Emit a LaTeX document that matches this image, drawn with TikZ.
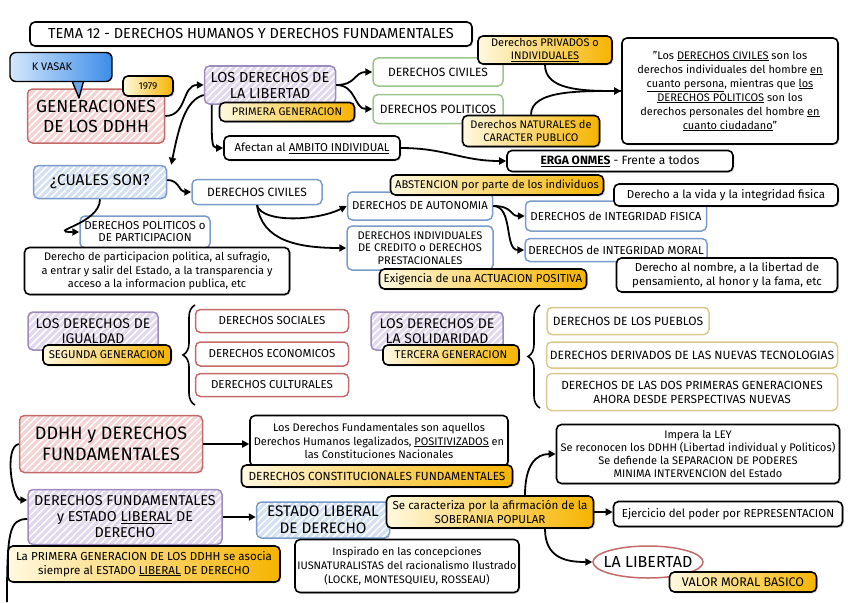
\documentclass[tikz,border=0pt]{standalone}
\usepackage{fontspec}
\setmainfont{Fira Sans}
\usetikzlibrary{shapes.geometric, arrows.meta, calc, patterns.meta, shadows, decorations.pathreplacing}
\usepackage{xcolor}
\definecolor{rojo}{HTML}{F3D3D3}
\definecolor{rojoborde}{HTML}{C46A6A}
\definecolor{lila}{HTML}{E2D8EE}
\definecolor{lilaborde}{HTML}{9E8BBE}
\definecolor{celeste}{HTML}{D4E1F3}
\definecolor{celesteborde}{HTML}{7B9BCB}
\definecolor{oro}{HTML}{F6B400}
\definecolor{crema}{HTML}{FFF9E0}
\definecolor{verdeborde}{HTML}{9DC58B}
\definecolor{beigeborde}{HTML}{D9C98C}
\definecolor{azulclaro}{HTML}{D4E7FC}
\definecolor{azulk}{HTML}{3D8DE8}

\begin{document}
\begin{tikzpicture}[x=1pt, y=-1pt,
  caja/.style={rectangle, rounded corners=5pt, align=center, inner sep=2pt, font=\fontsize{11.5}{13}\selectfont},
  sombra/.style={drop shadow={shadow xshift=1.3pt, shadow yshift=-1.3pt, opacity=.35}},
  negra/.style={caja, draw=black, line width=1.6pt, fill=white, sombra},
  amarilla/.style={caja, draw=black, line width=1.6pt, left color=crema, right color=oro, sombra},
  rayada/.style 2 args={caja, preaction={fill=#1}, pattern={Lines[angle=45, distance=5pt, line width=1.5pt]}, pattern color=white, draw=#2, line width=1.5pt},
  borde/.style={caja, draw=#1, line width=1.5pt, fill=white},
  flecha/.style={line width=1.8pt, -{Triangle[length=7pt, width=7pt]}},
  linea/.style={line width=1.8pt},
  llave/.style={line width=1.6pt, decorate, decoration={brace, amplitude=12pt}},
]
\useasboundingbox (0,0) rectangle (848,602);

\node[negra, minimum width=442pt, minimum height=24pt, font=\fontsize{14.5}{16}\selectfont] (titulo) at (251,34) {TEMA 12 - DERECHOS HUMANOS Y DERECHOS FUNDAMENTALES};

\node[rayada={rojo}{rojoborde}, minimum width=137pt, minimum height=54pt, font=\fontsize{17.5}{20}\selectfont] (gen) at (96,116) {GENERACIONES\\DE LOS DDHH};
\filldraw[fill=azulk!70!azulclaro, draw=black, line width=1.4pt, line join=round] (70,76) -- (79,98) -- (85,76);
\node[caja, rounded corners=6pt, draw=black, line width=1.4pt, left color=azulclaro, right color=azulk, minimum width=102pt, minimum height=29pt, font=\fontsize{11}{13}\selectfont] (vasak) at (61,67) {K VASAK\hspace{18pt}};
\node[amarilla, minimum width=50pt, minimum height=20pt, font=\fontsize{10}{12}\selectfont] (anio) at (148,86) {1979};

\node[rayada={lila}{lilaborde}, minimum width=131pt, minimum height=38pt, font=\fontsize{14.5}{16}\selectfont] (libertad) at (270,85) {LOS DERECHOS DE\\LA LIBERTAD};
\node[amarilla, minimum width=135pt, minimum height=19pt, font=\fontsize{11}{13}\selectfont] (primera) at (287,112) {PRIMERA GENERACION};
\node[borde=verdeborde, minimum width=130pt, minimum height=28pt, font=\fontsize{12}{14}\selectfont] (civiles1) at (438,72) {DERECHOS CIVILES};
\node[borde=verdeborde, minimum width=130pt, minimum height=29pt, font=\fontsize{12}{14}\selectfont] (politicos1) at (438,109) {DERECHOS POLITICOS};

\node[negra, minimum width=216pt, minimum height=106pt, font=\fontsize{11}{14}\selectfont] (cita) at (730,91) {"Los \underline{DERECHOS CIVILES} son los\\derechos individuales del hombre \underline{en}\\\underline{cuanto persona}, mientras que \underline{los}\\\underline{DERECHOS POLITICOS} son los\\derechos personales del hombre \underline{en}\\\underline{cuanto ciudadano}"};
\node[amarilla, minimum width=134pt, minimum height=28pt, font=\fontsize{11}{12.5}\selectfont] (privados) at (545,50) {Derechos PRIVADOS o\\\underline{INDIVIDUALES}};
\node[amarilla, minimum width=137pt, minimum height=31pt, font=\fontsize{11}{13}\selectfont] (naturales) at (531,131) {Derechos NATURALES de\\CARACTER PUBLICO};

\node[negra, minimum width=176pt, minimum height=24pt, font=\fontsize{11.4}{13}\selectfont] (afectan) at (312,148) {Afectan al \underline{AMBITO INDIVIDUAL}};
\node[negra, minimum width=226pt, minimum height=21pt, font=\fontsize{12}{14}\selectfont] (erga) at (620,161) {\underline{\textbf{ERGA ONMES}} - Frente a todos};

\node[rayada={celeste}{celesteborde}, minimum width=133pt, minimum height=33pt, font=\fontsize{15.5}{17}\selectfont] (cuales) at (100,182) {¿CUALES SON?};
\node[borde=celesteborde, minimum width=130pt, minimum height=25pt, font=\fontsize{12}{14}\selectfont] (civiles2) at (257,192) {DERECHOS CIVILES};
\node[borde=celesteborde, minimum width=130pt, minimum height=32pt, font=\fontsize{11.5}{12}\selectfont] (politicos2) at (145,232) {DERECHOS POLITICOS o\\DE PARTICIPACION};
\node[negra, minimum width=265pt, minimum height=47pt, font=\fontsize{11}{13.5}\selectfont] (participacion) at (157,271) {Derecho de participacion politica, al sufragio,\\a entrar y salir del Estado, a la transparencia y\\acceso a la informacion publica, etc};

\node[borde=celesteborde, minimum width=145pt, minimum height=28pt, font=\fontsize{11.4}{13}\selectfont] (autonomia) at (420,206) {DERECHOS DE AUTONOMIA};
\node[amarilla, minimum width=213pt, minimum height=20pt, font=\fontsize{11.2}{13}\selectfont] (abstencion) at (497,185) {ABSTENCION por parte de los individuos};
\node[borde=celesteborde, minimum width=146pt, minimum height=44pt, font=\fontsize{11.1}{12.5}\selectfont] (individuales) at (420,248) {DERECHOS INDIVIDUALES\\DE CREDITO o DERECHOS\\PRESTACIONALES};
\node[amarilla, minimum width=207pt, minimum height=20pt] (exigencia) at (483,279) {Exigencia de una ACTUACION POSITIVA};

\node[borde=celesteborde, minimum width=181pt, minimum height=30pt] (fisica) at (616,216) {DERECHOS de INTEGRIDAD FISICA};
\node[negra, minimum width=224pt, minimum height=22pt] (vida) at (726,195) {Derecho a la vida y la integridad fisica};
\node[borde=celesteborde, minimum width=182pt, minimum height=23pt] (moral) at (616,250) {DERECHOS de INTEGRIDAD MORAL};
\node[negra, minimum width=221pt, minimum height=34pt, font=\fontsize{11.5}{13.5}\selectfont] (nombre) at (727,275) {Derecho al nombre, a la libertad de\\pensamiento, al honor y la fama, etc};

\node[rayada={lila}{lilaborde}, minimum width=130pt, minimum height=38pt, font=\fontsize{14}{15.5}\selectfont] (igualdad) at (93,331) {LOS DERECHOS DE\\IGUALDAD};
\node[amarilla, minimum width=128pt, minimum height=20pt, font=\fontsize{11.3}{13}\selectfont] (segunda) at (107,355) {SEGUNDA GENERACION};
\draw[llave] (195,405) -- (195,305);
\node[borde=rojoborde, minimum width=153pt, minimum height=23pt] (sociales) at (272,321) {DERECHOS SOCIALES};
\node[borde=rojoborde, minimum width=153pt, minimum height=24pt] (economicos) at (272,354) {DERECHOS ECONOMICOS};
\node[borde=rojoborde, minimum width=153pt, minimum height=23pt] (culturales) at (272,385) {DERECHOS CULTURALES};

\node[rayada={lila}{lilaborde}, minimum width=132pt, minimum height=38pt, font=\fontsize{14}{15.5}\selectfont] (solidaridad) at (437,331) {LOS DERECHOS DE\\LA SOLIDARIDAD};
\node[amarilla, minimum width=136pt, minimum height=20pt, font=\fontsize{11.3}{13}\selectfont] (tercera) at (451,355) {TERCERA GENERACION};
\draw[llave] (540,408) -- (540,305);
\node[borde=beigeborde, minimum width=162pt, minimum height=27pt, font=\fontsize{12}{14}\selectfont] (pueblos) at (628,321) {DERECHOS DE LOS PUEBLOS};
\node[borde=beigeborde, minimum width=291pt, minimum height=26pt, font=\fontsize{12}{14}\selectfont] (tecnologias) at (692,355) {DERECHOS DERIVADOS DE LAS NUEVAS TECNOLOGIAS};
\node[borde=beigeborde, minimum width=291pt, minimum height=37pt, font=\fontsize{11.8}{14}\selectfont] (perspectivas) at (692,392) {DERECHOS DE LAS DOS PRIMERAS GENERACIONES\\AHORA DESDE PERSPECTIVAS NUEVAS};

\node[rayada={rojo}{rojoborde}, minimum width=183pt, minimum height=57pt, font=\fontsize{18}{21}\selectfont] (ddhh) at (111,444) {DDHH y DERECHOS\\FUNDAMENTALES};
\node[negra, minimum width=258pt, minimum height=51pt, font=\fontsize{11}{13.5}\selectfont] (losfund) at (379,441) {Los Derechos Fundamentales son aquellos\\Derechos Humanos legalizados, \underline{POSITIVIZADOS} en\\las Constituciones Nacionales};
\node[amarilla, minimum width=271pt, minimum height=22pt, font=\fontsize{11.8}{13}\selectfont] (constitucionales) at (377,476) {DERECHOS CONSTITUCIONALES FUNDAMENTALES};
\node[rayada={lila}{lilaborde}, minimum width=194pt, minimum height=55pt, font=\fontsize{14.3}{16}\selectfont] (fundestado) at (125,517) {DERECHOS FUNDAMENTALES\\y ESTADO \underline{LIBERAL} DE\\DERECHO};
\node[amarilla, minimum width=272pt, minimum height=36pt, font=\fontsize{11.6}{14}\selectfont] (primeraasoc) at (144,564) {La PRIMERA GENERACION DE LOS DDHH se asocia\\siempre al ESTADO \underline{LIBERAL} DE DERECHO};
\node[rayada={celeste}{celesteborde}, minimum width=133pt, minimum height=36pt, font=\fontsize{15.3}{17}\selectfont] (estado) at (323,520) {ESTADO LIBERAL\\DE DERECHO};
\node[amarilla, minimum width=207pt, minimum height=32pt, font=\fontsize{11.6}{14}\selectfont] (soberania) at (490,512) {Se caracteriza por la afirmación de la\\SOBERANIA POPULAR};
\node[negra, minimum width=224pt, minimum height=53pt, font=\fontsize{10.9}{14}\selectfont] (inspirado) at (407,566) {Inspirado en las concepciones\\IUSNATURALISTAS del racionalismo Ilustrado\\(LOCKE, MONTESQUIEU, ROSSEAU)};
\node[negra, minimum width=283pt, minimum height=59pt, font=\fontsize{11}{13}\selectfont] (impera) at (698,454) {Impera la LEY\\Se reconocen los DDHH (Libertad individual y Politicos)\\Se defiende la SEPARACION DE PODERES\\MINIMA INTERVENCION del Estado};
\node[negra, minimum width=229pt, minimum height=25pt] (ejercicio) at (728,514) {Ejercicio del poder por REPRESENTACION};
\node[ellipse, draw=rojoborde, line width=1.5pt, fill=white, inner sep=0pt, minimum width=110pt, minimum height=32pt, font=\fontsize{16}{18}\selectfont] (libertadell) at (648,562) {\makebox[0pt]{LA LIBERTAD}};
\node[amarilla, minimum width=147pt, minimum height=20pt, font=\fontsize{12.5}{14}\selectfont] (valor) at (743,582) {VALOR MORAL BASICO};

\draw[flecha] (gen.east) .. controls +(22,0) and +(-22,0) .. (libertad.west);
\draw[flecha] ([yshift=-10pt]libertad.west) .. controls +(-18,5) and +(8,-40) .. ([xshift=4pt]cuales.north east);
\draw[flecha] ([xshift=8pt]libertad.south west) .. controls +(0,35) and +(-12,0) .. (afectan.west);
\draw[flecha] (libertad.east) .. controls +(20,0) and +(-18,0) .. (civiles1.west);
\draw[flecha] (libertad.east) .. controls +(20,0) and +(-18,0) .. (politicos1.west);
\draw[flecha] (privados.south) .. controls +(0,25) and +(-40,0) .. (cita.west);
\draw[linea] (naturales.north) .. controls +(0,-25) and +(-40,0) .. (cita.west);
\draw[flecha] (afectan.east) .. controls +(45,0) and +(-45,0) .. (erga.west);
\draw[flecha] ([yshift=2pt]cuales.east) .. controls +(12,0) and +(-12,0) .. (civiles2.west);
\draw[flecha] (cuales.south) .. controls +(0,25) and +(-35,0) .. (politicos2.west);
\draw[flecha] (civiles2.south) .. controls +(5,18) and +(-30,15) .. (autonomia.west);
\draw[flecha] (civiles2.south) .. controls +(5,35) and +(-50,0) .. (individuales.west);
\draw[flecha] (autonomia.east) .. controls +(20,0) and +(-15,0) .. (fisica.west);
\draw[flecha] (autonomia.east) .. controls +(20,0) and +(-20,0) .. (moral.west);
\draw[flecha] (ddhh.east) -- (ddhh.east -| losfund.west);
\draw[flecha] (ddhh.west) .. controls +(-15,3) and +(-15,0) .. ([yshift=17pt]fundestado.west);
\coordinate (borde) at (7,602);
\draw[linea] (borde) .. controls +(0,-70) and +(-18,0) .. ([yshift=-2pt]fundestado.west);
\draw[flecha] (fundestado.east) -- (fundestado.east -| estado.west);
\draw[flecha] ([xshift=35pt]soberania.north) .. controls +(0,-30) and +(-20,0) .. (impera.west);
\draw[flecha] (soberania.east) -- (soberania.east -| ejercicio.west);
\draw[flecha] ([xshift=55pt]soberania.south) .. controls +(0,30) and +(-25,0) .. (libertadell.west);
\end{tikzpicture}
\end{document}
